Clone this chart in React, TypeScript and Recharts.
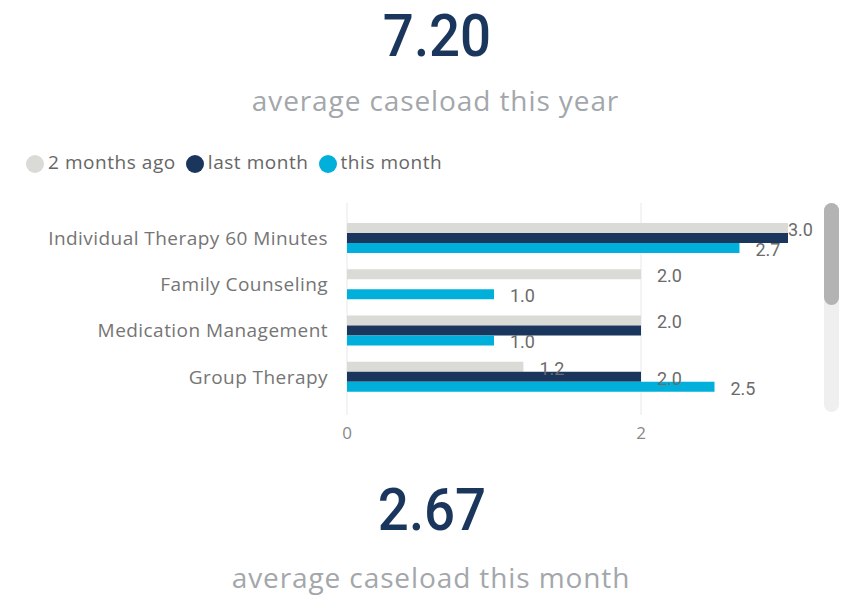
import { BarChart, Bar, XAxis, YAxis, CartesianGrid, Legend, LabelList } from "recharts";

const categories = ["Individual Therapy 60 Minutes", "Family Counseling", "Medication Management", "Group Therapy"];
const twoMonthsAgo = [3.0, 2.0, 2.0, 1.2];
const lastMonth: (number | null)[] = [3.0, null, 2.0, 2.0];
const thisMonth = [2.67, 1.0, 1.0, 2.5];
const xTicks = [0, 2];
const xDomain = [0, 3];

// labels Power BI dropped because they overlapped
const hiddenLabels: Record<string, string[]> = {
  lastMonth: ["Individual Therapy 60 Minutes", "Medication Management"],
};

const series: Record<string, (number | null)[]> = { twoMonthsAgo, lastMonth, thisMonth };

const data = categories.map((name, i) => ({
  name,
  twoMonthsAgo: twoMonthsAgo[i],
  lastMonth: lastMonth[i],
  thisMonth: thisMonth[i],
}));

const SANS = "'Open Sans', sans-serif";

function makeLabel(key: string) {
  // LabelList skips null values, so its index runs over the non-null entries only
  const names = categories.filter((_, i) => series[key][i] != null);
  return (props: any) => {
    const { x, y, width, height, value, index } = props;
    if (value == null || (hiddenLabels[key] || []).includes(names[index])) return null;
    const tx = Math.min(Number(x) + Number(width) + 16, 788);
    return (
      <text x={tx} y={Number(y) + Number(height) / 2 + 3} fill="#6b6b6b" fontSize={18} fontFamily="Roboto" dominantBaseline="middle">
        {Number(value).toFixed(1)}
      </text>
    );
  };
}

// grid only at the axis ticks
function gridX(p: any) {
  const s = p?.xAxis?.scale;
  const o = p?.offset || { left: 347, width: 441 };
  return xTicks.map((t) =>
    typeof s === "function" ? s(t) : o.left + ((t - xDomain[0]) / (xDomain[1] - xDomain[0])) * o.width
  );
}

const bigNum = { position: "absolute" as const, left: 0, textAlign: "center" as const, fontFamily: "Roboto", fontWeight: 500, fontSize: 60, lineHeight: "60px", color: "#1b365d", transform: "scaleX(0.91)" };
const subText = { position: "absolute" as const, left: 0, textAlign: "center" as const, fontFamily: SANS, fontSize: 28, lineHeight: "28px", letterSpacing: 0.9, color: "#a3a7ab" };

export default function App() {
  return (
    <div style={{ position: "absolute", left: 0, top: 0, width: 848, height: 599, background: "#fff", overflow: "hidden" }}>
      <div style={{ ...bigNum, width: 874, top: 6, transformOrigin: "437px 0" }}>7.20</div>
      <div style={{ ...subText, width: 871, top: 86 }}>average caseload this year</div>
      <div style={{ position: "absolute", left: 0, top: 150 }}>
        <BarChart width={848} height={310} data={data} layout="vertical" barSize={10} barGap={0} margin={{ top: 13, right: 60, left: 0, bottom: 15 }}>
          <CartesianGrid horizontal={false} stroke="#e8e8e8" verticalCoordinatesGenerator={gridX} />
          <XAxis type="number" domain={xDomain} ticks={xTicks} axisLine={false} tickLine={false} height={30} tickMargin={6} tick={{ fill: "#888", fontSize: 17, fontFamily: SANS }} />
          <YAxis type="category" dataKey="name" width={347} axisLine={false} tickLine={false} tickMargin={13} padding={{ top: 12, bottom: 15 }} tick={{ fill: "#757575", fontSize: 19, fontFamily: SANS, letterSpacing: 0.45 }} />
          <Legend
            verticalAlign="top"
            align="left"
            iconType="circle"
            iconSize={18}
            height={40}
            wrapperStyle={{ top: -1, left: 26, fontFamily: SANS, fontSize: 19, letterSpacing: 0.55 }}
            formatter={(v: string) => <span style={{ color: "#666" }}>{v}</span>}
          />
          <Bar dataKey="twoMonthsAgo" name="2 months ago" fill="#dadad6" isAnimationActive={false}>
            <LabelList dataKey="twoMonthsAgo" content={makeLabel("twoMonthsAgo")} />
          </Bar>
          <Bar dataKey="lastMonth" name="last month" fill="#1b365d" isAnimationActive={false}>
            <LabelList dataKey="lastMonth" content={makeLabel("lastMonth")} />
          </Bar>
          <Bar dataKey="thisMonth" name="this month" fill="#00b0da" isAnimationActive={false}>
            <LabelList dataKey="thisMonth" content={makeLabel("thisMonth")} />
          </Bar>
        </BarChart>
      </div>
      <div style={{ position: "absolute", left: 824, top: 203, width: 15, height: 209, borderRadius: 8, background: "#efefef" }} />
      <div style={{ position: "absolute", left: 824, top: 203, width: 15, height: 102, borderRadius: 8, background: "#b3b3b3" }} />
      <div style={{ ...bigNum, width: 864, top: 480, transformOrigin: "432px 0" }}>2.67</div>
      <div style={{ ...subText, width: 862, top: 563 }}>average caseload this month</div>
    </div>
  );
}
